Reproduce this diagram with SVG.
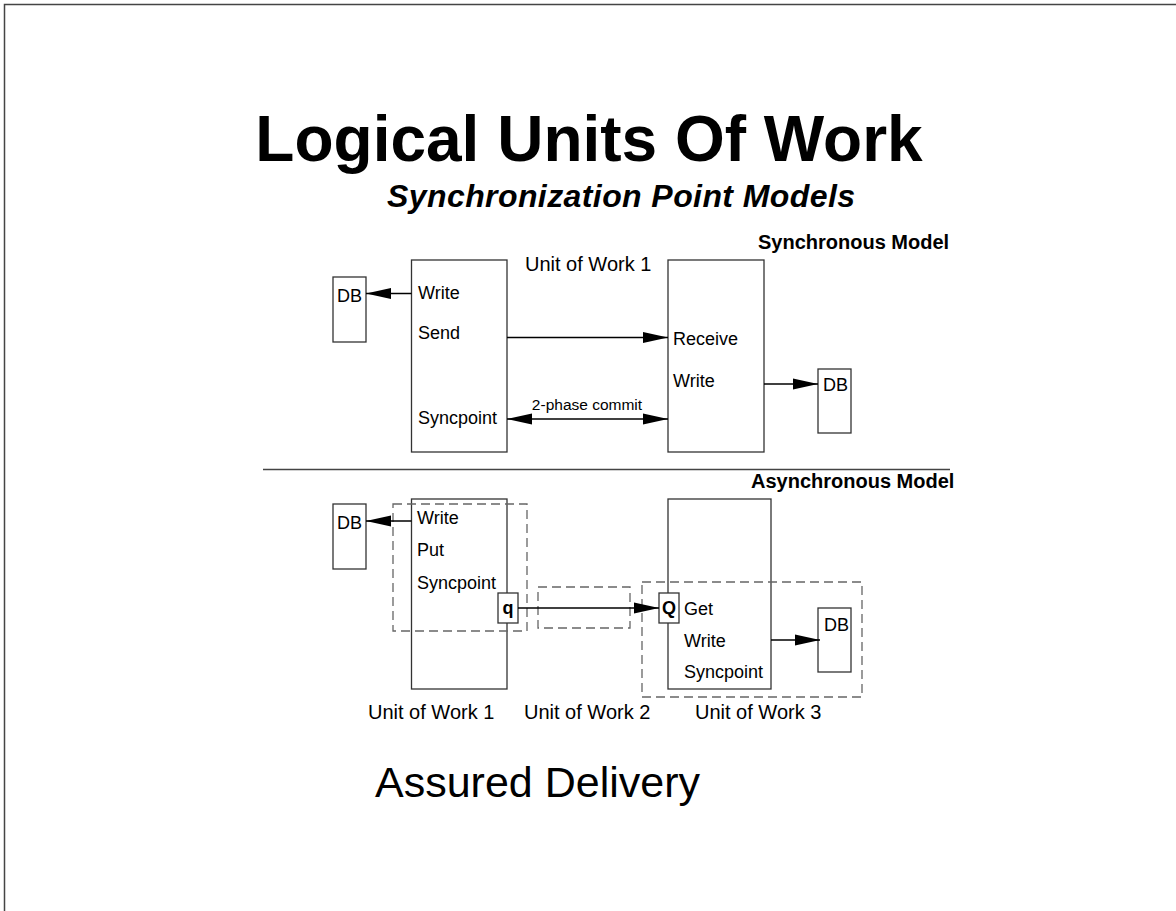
<svg xmlns="http://www.w3.org/2000/svg" width="1176" height="911" viewBox="0 0 1176 911">
<defs>
<style>
text{font-family:"Liberation Sans",Arial,sans-serif;fill:#000}
.box{fill:none;stroke:#333;stroke-width:1.3}
.dash{fill:none;stroke:#666;stroke-width:1.3;stroke-dasharray:9 5}
.lbl{font-size:18px}
.uow{font-size:20px}
.hdr{font-size:20px;font-weight:bold}
.conn{stroke:#000;stroke-width:1.3;fill:none}
</style>
<marker id="ah" markerUnits="userSpaceOnUse" markerWidth="25" markerHeight="12" refX="25" refY="6" orient="auto-start-reverse">
<path d="M0,0.5 L25,6 L0,11.5 z" fill="#000"/>
</marker>
</defs>
<rect width="1176" height="911" fill="#fff"/>
<path d="M4.5,911 V4.5 H1176" fill="none" stroke="#444" stroke-width="1.5"/>

<text x="589" y="161" font-size="64" font-weight="bold" text-anchor="middle">Logical Units Of Work</text>
<text x="387" y="207" font-size="32" font-weight="bold" font-style="italic" textLength="468">Synchronization Point Models</text>
<text x="375" y="797" font-size="43">Assured Delivery</text>

<g id="sync-header"><text class="hdr" x="758" y="249">Synchronous Model</text></g>
<g id="sync-uow-label"><text class="uow" x="525" y="271">Unit of Work 1</text></g>

<g id="sync-db-left">
<rect class="box" x="333" y="277" width="33" height="65"/>
<text class="lbl" x="337" y="302">DB</text>
</g>
<g id="sync-app1">
<rect class="box" x="411.5" y="260" width="95.5" height="192"/>
<text class="lbl" x="418" y="299">Write</text>
<text class="lbl" x="418" y="339">Send</text>
<text class="lbl" x="418" y="424">Syncpoint</text>
</g>
<g id="sync-app2">
<rect class="box" x="668" y="260" width="96" height="192"/>
<text class="lbl" x="673" y="345">Receive</text>
<text class="lbl" x="673" y="387">Write</text>
</g>
<g id="sync-db-right">
<rect class="box" x="818" y="369" width="33" height="64"/>
<text class="lbl" x="823" y="391">DB</text>
</g>

<line x1="263" y1="469.5" x2="950" y2="469.5" stroke="#444" stroke-width="1.5"/>

<g id="async-header"><text class="hdr" x="751" y="488">Asynchronous Model</text></g>

<g id="async-db-left">
<rect class="box" x="333" y="504" width="33" height="65"/>
<text class="lbl" x="337" y="529">DB</text>
</g>
<g id="async-app1">
<rect class="box" x="411.5" y="499" width="95.5" height="190"/>
<text class="lbl" x="417" y="524">Write</text>
<text class="lbl" x="417" y="556">Put</text>
<text class="lbl" x="417" y="589">Syncpoint</text>
</g>
<g id="async-q">
<rect class="box" x="498" y="593" width="20" height="30" style="fill:#fff"/>
<text class="lbl" x="508" y="614" font-weight="bold" text-anchor="middle">q</text>
</g>
<g id="async-app3">
<rect class="box" x="668" y="499" width="103" height="190"/>
<text class="lbl" x="684" y="615">Get</text>
<text class="lbl" x="684" y="647">Write</text>
<text class="lbl" x="684" y="678">Syncpoint</text>
</g>
<g id="async-Q">
<rect class="box" x="659" y="593" width="20" height="30" style="fill:#fff"/>
<text class="lbl" x="669" y="614" font-weight="bold" text-anchor="middle">Q</text>
</g>
<g id="async-db-right">
<rect class="box" x="818" y="608" width="33" height="64"/>
<text class="lbl" x="824" y="631">DB</text>
</g>

<g id="uow-scopes">
<rect class="dash" x="393" y="504" width="134" height="127"/>
<rect class="dash" x="538" y="587" width="92" height="41"/>
<rect class="dash" x="642" y="582" width="220" height="115"/>
</g>

<g id="async-labels">
<text class="uow" x="368" y="719">Unit of Work 1</text>
<text class="uow" x="524" y="719">Unit of Work 2</text>
<text class="uow" x="695" y="719">Unit of Work 3</text>
</g>

<g id="connectors">
<line class="conn" x1="411.5" y1="293.5" x2="366" y2="293.5" marker-end="url(#ah)"/>
<line class="conn" x1="507" y1="337.5" x2="668" y2="337.5" marker-end="url(#ah)"/>
<line class="conn" x1="507" y1="419" x2="668" y2="419" marker-start="url(#ah)" marker-end="url(#ah)"/>
<text x="587" y="410" font-size="15.5" text-anchor="middle">2-phase commit</text>
<line class="conn" x1="764" y1="384" x2="818" y2="384" marker-end="url(#ah)"/>
<line class="conn" x1="411.5" y1="521" x2="366" y2="521" marker-end="url(#ah)"/>
<line class="conn" x1="518" y1="608" x2="659" y2="608" marker-end="url(#ah)"/>
<line class="conn" x1="771" y1="640" x2="820" y2="640" marker-end="url(#ah)"/>
</g>
</svg>
